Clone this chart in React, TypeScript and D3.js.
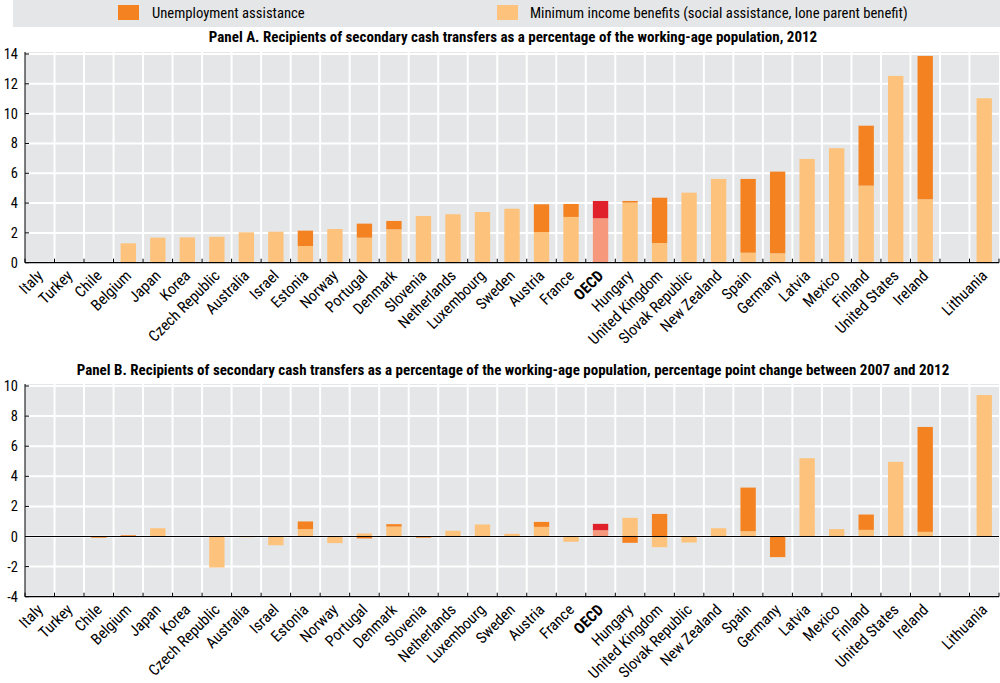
import React from "react";
import * as d3 from "d3";

const categories = ["Italy","Turkey","Chile","Belgium","Japan","Korea","Czech Republic","Australia","Israel","Estonia","Norway","Portugal","Denmark","Slovenia","Netherlands","Luxembourg","Sweden","Austria","France","OECD","Hungary","United Kingdom","Slovak Republic","New Zealand","Spain","Germany","Latvia","Mexico","Finland","United States","Ireland","","Lithuania"];

const panelAMin = [0,0,0,1.30,1.68,1.70,1.74,2.04,2.08,1.12,2.26,1.68,2.24,3.13,3.25,3.40,3.62,2.06,3.07,2.98,4.03,1.32,4.70,5.62,0.67,0.63,6.96,7.68,5.17,12.53,4.26,0,11.03];
const panelAUA = [0,0,0,0,0,0,0,0,0,1.03,0,0.94,0.56,0,0,0,0,1.86,0.87,1.16,0.11,3.04,0,0,4.95,5.48,0,0,4.02,0,9.61,0,0];

const panelBMin = [0,0,0,0.05,0.55,0,-2.06,-0.05,-0.58,0.49,-0.44,0.2,0.66,0,0.38,0.8,0.18,0.64,-0.35,0.42,1.24,-0.71,-0.4,0.55,0.35,0,5.2,0.49,0.44,4.96,0.31,0,9.4];
const panelBUA = [0,0,-0.08,0.03,0,0,0,0,0,0.51,0,-0.13,0.16,-0.08,0,0,0,0.33,0,0.42,-0.42,1.5,0,0,2.9,-1.37,0,0,1.02,0,6.97,0,0];

const ticksA = [0,2,4,6,8,10,12,14];
const ticksB = [-4,-2,0,2,4,6,8,10];

const FONT = "'Liberation Sans Narrow','Arial Narrow','Roboto Condensed','DejaVu Sans Condensed',sans-serif";
const C_UA = "#f58220";
const C_MIN = "#fdc37c";
const C_UA_OECD = "#e0202a";
const C_MIN_OECD = "#f5987c";
const BG = "#e5e6e7";

function Panel({ minVals, uaVals, ticks, domain, yTop, yBottom, title, titleY }: any) {
  const x0 = 25, x1 = 999;
  const x = d3.scaleBand<string>().domain(categories.map((c, i) => i + "")).range([x0, x1]).paddingInner(0).paddingOuter(0);
  const y = d3.scaleLinear().domain(domain).range([yBottom, yTop]);
  const bw = x.bandwidth() * 0.52;
  const bars: any[] = [];
  categories.forEach((c, i) => {
    const cx = (x(i + "") as number) + x.bandwidth() / 2;
    let pos = 0, neg = 0;
    const isO = c === "OECD";
    const segs = [
      { v: minVals[i], col: isO ? C_MIN_OECD : C_MIN },
      { v: uaVals[i], col: isO ? C_UA_OECD : C_UA },
    ];
    segs.forEach((s, k) => {
      if (!s.v) return;
      let a, b;
      if (s.v > 0) { a = pos; b = pos + s.v; pos = b; }
      else { a = neg; b = neg + s.v; neg = b; }
      const yy1 = y(Math.max(a, b)), yy2 = y(Math.min(a, b));
      bars.push(<rect key={i + "-" + k} x={cx - bw / 2} y={yy1} width={bw} height={Math.max(0.8, yy2 - yy1)} fill={s.col} />);
    });
  });
  const bounds = d3.range(categories.length + 1).map(i => x0 + i * x.bandwidth());
  return (
    <g>
      <text x={513} y={titleY} textAnchor="middle" fontFamily={FONT} fontWeight="bold" fontSize={15} fill="#000">{title}</text>
      <rect x={x0} y={yTop - 2} width={x1 - x0} height={yBottom - yTop + 2} fill={BG} />
      {ticks.map((t: number) => (
        <line key={"h" + t} x1={x0} x2={x1} y1={y(t)} y2={y(t)} stroke="#fff" strokeWidth={2} />
      ))}
      {bounds.slice(1, -1).map((bx, i) => (
        <line key={"v" + i} x1={bx} x2={bx} y1={yTop - 2} y2={yBottom} stroke="#fff" strokeWidth={2} />
      ))}
      {bars}
      <line x1={x0} x2={x0} y1={yTop - 2} y2={yBottom} stroke="#000" strokeWidth={1} />
      {ticks.map((t: number) => (
        <g key={"t" + t}>
          <line x1={x0} x2={x0 + 4} y1={y(t)} y2={y(t)} stroke="#000" strokeWidth={1} />
          <text x={18} y={y(t) + 5} textAnchor="end" fontFamily={FONT} fontSize={14.5} fill="#000">{t}</text>
        </g>
      ))}
      <line x1={x0} x2={x1} y1={yBottom} y2={yBottom} stroke="#000" strokeWidth={1.2} />
      {domain[0] < 0 && <line x1={x0} x2={x1} y1={y(0)} y2={y(0)} stroke="#000" strokeWidth={1.2} />}
      {bounds.map((bx, i) => (
        <line key={"xt" + i} x1={bx} x2={bx} y1={yBottom - 4} y2={yBottom} stroke="#000" strokeWidth={1} />
      ))}
      {categories.map((c, i) => {
        const cx = (x(i + "") as number) + x.bandwidth() / 2;
        const ty = yBottom + 14;
        return (
          <text key={"l" + i} transform={`translate(${cx + 4},${ty}) rotate(-45)`} textAnchor="end" fontFamily={FONT} fontSize={15.5} fontWeight={c === "OECD" ? "bold" : "normal"} fill="#000">{c}</text>
        );
      })}
    </g>
  );
}

export default function App() {
  return (
    <svg width={1000} height={683} style={{ display: "block", position: "absolute", left: 0, top: 0 }}>
      <rect x={0} y={0} width={1000} height={683} fill="#fff" />
      <rect x={13} y={0} width={987} height={27} fill={BG} />
      <rect x={118} y={5} width={21} height={15} fill={C_UA} />
      <text x={152} y={18} fontFamily={FONT} fontSize={14.7} fill="#000">Unemployment assistance</text>
      <rect x={497} y={5} width={21} height={15} fill={C_MIN} />
      <text x={530} y={18} fontFamily={FONT} fontSize={14.7} fill="#000">Minimum income benefits (social assistance, lone parent benefit)</text>
      <Panel minVals={panelAMin} uaVals={panelAUA} ticks={ticksA} domain={[0, 14]} yTop={54} yBottom={262.7}
        title="Panel A. Recipients of secondary cash transfers as a percentage of the working-age population, 2012" titleY={42} />
      <Panel minVals={panelBMin} uaVals={panelBUA} ticks={ticksB} domain={[-4, 10]} yTop={386} yBottom={596.7}
        title="Panel B. Recipients of secondary cash transfers as a percentage of the working-age population, percentage point change between 2007 and 2012" titleY={375} />
    </svg>
  );
}
